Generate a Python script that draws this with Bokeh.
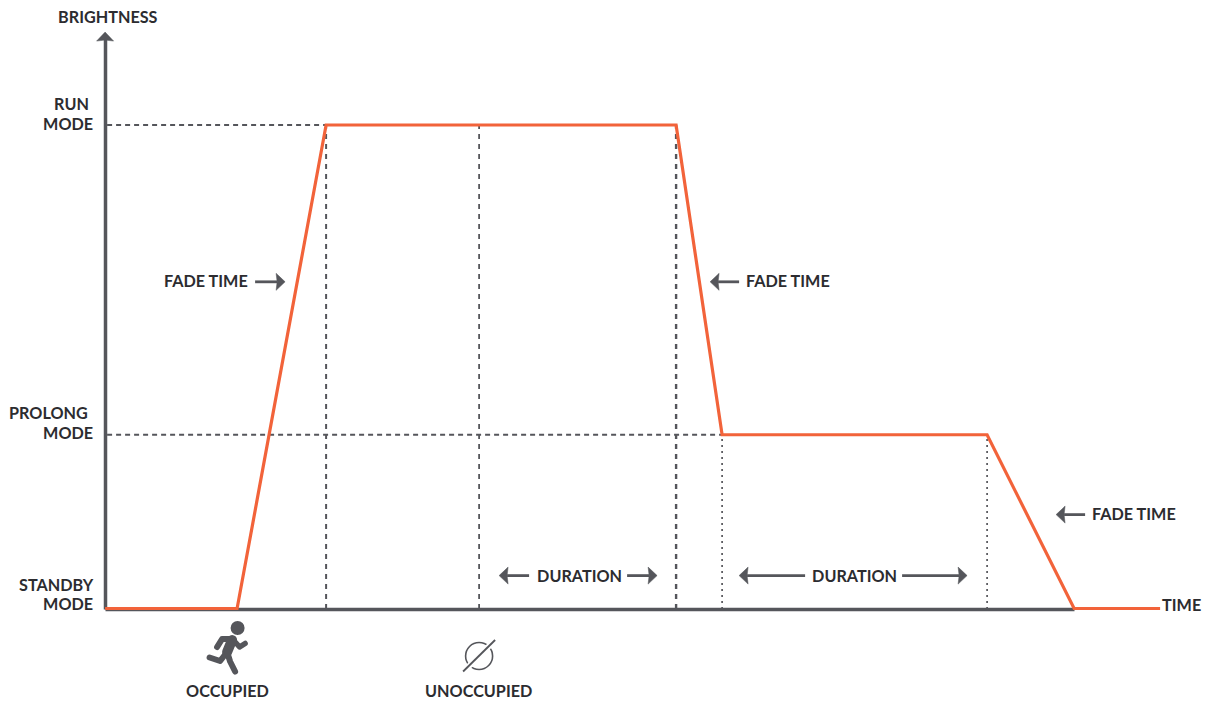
from bokeh.plotting import figure
from bokeh.embed import file_html
from bokeh.resources import INLINE
from bokeh.core.properties import value
from bokeh.models import Range1d, FixedTicker

# --- chart values: time in arbitrary units, brightness in percent ---
profile_time = [0, 132, 221, 571, 617, 882, 969, 1055]
profile_brightness = [0.1, 0.1, 100, 100, 36, 36, 0.1, 0.1]
time_marks_dark = [221, 374, 571]
time_marks_top = [100, 100, 100]
time_marks_dot = [617, 882]
time_marks_dot_top = [36, 36]
level_ends = [221, 617]
level_values = [100, 36]

label_text = ["BRIGHTNESS", "RUN", "MODE", "PROLONG", "MODE", "STANDBY", "MODE", "TIME",
              "FADE TIME", "FADE TIME", "FADE TIME", "DURATION", "DURATION", "OCCUPIED", "UNOCCUPIED"]
label_time = [-47, -51, -62, -96, -62, -86, -62, 1057, 59, 641, 987, 432, 707, 81, 320]
label_level = [122.5, 104.4, 100.3, 40.7, 36.5, 5.0, 1.05, 0.9, 67.8, 67.8, 19.7, 7.0, 7.0, -16.9, -16.9]

arrow_from = [150, 634, 980, 424, 522, 700, 797]
arrow_to = [180, 605, 951, 394, 552, 634, 862]
arrow_level = [67.6, 67.6, 19.5, 6.9, 6.9, 6.9, 6.9]

INK = "#55565b"
TEXT = "#2c2c30"
ORANGE = "#f2633a"
FONT = "Lato"
PX_Y = 4.84  # screen pixels per brightness unit
W, H = 1208, 701
Y0 = 608.5

p = figure(width=W, height=H, output_backend="svg", toolbar_location=None,
           x_range=Range1d(-104.6, 1103.4),
           y_range=Range1d((Y0 - H) / PX_Y, Y0 / PX_Y),
           min_border=0, outline_line_color=None)
p.grid.visible = False

for ax, end in ((p.xaxis[0], 969), (p.yaxis[0], 118)):
    ax.fixed_location = 0
    ax.bounds = (0, end)
    ax.level = "underlay"
    ax.axis_line_color = INK
    ax.axis_line_width = 3.5
    ax.major_tick_line_color = None
    ax.minor_tick_line_color = None
    ax.major_label_text_font_size = "0px"
    ax.ticker = FixedTicker(ticks=[])

# guides
p.segment(x0=time_marks_dark, y0=[0] * 3, x1=time_marks_dark, y1=time_marks_top,
          line_color=INK, line_width=[2, 1.8, 2.4], line_dash="5 5")
p.segment(x0=time_marks_dot, y0=[0] * 2, x1=time_marks_dot, y1=time_marks_dot_top,
          line_color=INK, line_width=1.7, line_dash="2 4")
p.segment(x0=[2, 2], y0=level_values, x1=level_ends, y1=level_values,
          line_color=INK, line_width=2, line_dash="5 4")

# brightness profile
p.line(profile_time, profile_brightness, line_color=ORANGE, line_width=3.2, line_join="miter")

# arrows
NOTCH, LEN, HALF = 8, 9, 8.5
hx, hy = [], []
for a, b, lv in zip(arrow_from, arrow_to, arrow_level):
    d = 1 if b > a else -1
    hx.append([b, b - d * LEN, b - d * NOTCH, b - d * LEN])
    hy.append([lv, lv + HALF / PX_Y, lv, lv - HALF / PX_Y])
p.segment(x0=arrow_from, y0=arrow_level,
          x1=[b - (1 if b > a else -1) * NOTCH for a, b in zip(arrow_from, arrow_to)],
          y1=arrow_level, line_color=INK, line_width=2.8)
# y axis head
TIP = 119.2
hx.append([0, -HALF, 0, HALF])
hy.append([TIP, TIP - LEN / PX_Y, TIP - NOTCH / PX_Y, TIP - LEN / PX_Y])
p.patches(hx, hy, fill_color=INK, line_color=INK, line_width=0.5)

# helper for icons: reference page pixel to data
def dx(x):
    return x - 105
def dy(y):
    return (609 - y) / PX_Y

# runner icon
strokes = [
    ([233, 222, 217], [639, 639, 647], 6),
    ([235, 239.5, 245], [642, 647, 643.5], 5.5),
    ([232, 227], [640, 652], 10),
    ([227, 220, 209.5], [652, 661, 657.5], 6),
    ([227, 230, 235], [652, 661.5, 671.5], 6),
]
for xs, ys, w in strokes:
    p.line([dx(v) for v in xs], [dy(v) for v in ys], line_color=INK, line_width=w,
           line_cap="round", line_join="round")
p.circle([dx(237.5)], [dy(628)], radius=7, radius_units="screen", fill_color=INK, line_color=None)

# unoccupied icon
p.circle([dx(479)], [dy(656)], radius=13.5, radius_units="screen", fill_color=None,
         line_color=INK, line_width=1.6)
p.line([dx(462), dx(496)], [dy(673), dy(639)], line_color="white", line_width=6)
p.line([dx(463), dx(495)], [dy(671.5), dy(640)], line_color=INK, line_width=1.8)

# text
p.text(label_time, label_level, text=label_text, text_font=value(FONT), text_font_style="bold",
       text_font_size="16.2px", text_color=TEXT, text_baseline="middle", text_align="left")

open("out.html", "w").write(file_html(p, INLINE))
